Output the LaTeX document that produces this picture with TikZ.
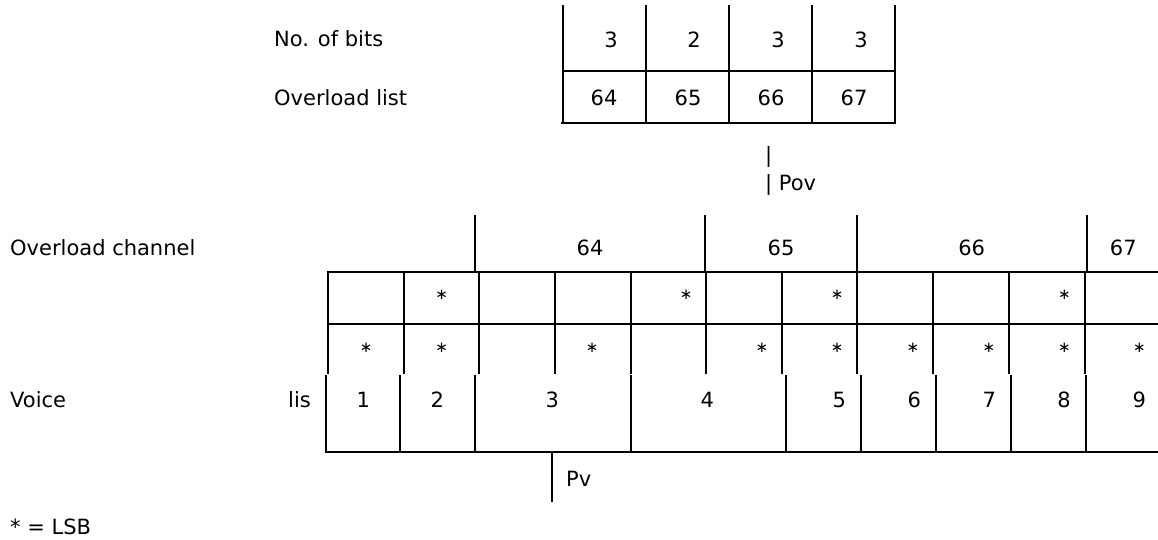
\documentclass[tikz,border=0pt]{standalone}
\usepackage{fontspec}
\setmainfont{DejaVu Sans}
\begin{document}
\begin{tikzpicture}[x=1pt,y=-1pt,
  grid/.style={line width=1.9pt,line cap=butt},
  lbl/.style={inner sep=0pt,font=\fontsize{21}{25}\selectfont},
  lw/.style={lbl,anchor=base west},
  num/.style={lbl,anchor=base},
  star/.style={inner sep=0pt,anchor=center,font=\fontsize{15}{18}\selectfont}]
\useasboundingbox (0,0) rectangle (1158,539);
% top table
\foreach \x in {562.7,646,729,812.3,895.3}
  \draw[grid] (\x,5) -- (\x,123.5);
\draw[grid] (562.7,71) -- (895.3,71);
\draw[grid] (561,122.7) -- (896.2,122.7);
\node[lw] (nbits) at (274,46) {No. of bits};
\node[lw] (olist) at (274,105) {Overload list};
\foreach \x/\t [count=\i] in {611/3,694/2,778/3,861/3}
  \node[num] (b\i) at (\x,47) {\t};
\foreach \x/\t [count=\i] in {604/64,688/65,771/66,854/67}
  \node[num] (l\i) at (\x,105) {\t};
% Pov
\node[lw] (pov1) at (765,162) {|};
\node[lw] (pov2) at (765,190) {| Pov};
% overload channel
\node[lw] (ochan) at (10,255) {Overload channel};
\foreach \x in {474.7,705,856.7,1086.7}
  \draw[grid] (\x,215) -- (\x,271.7);
\foreach \x/\t [count=\i] in {590/64,781/65,971.7/66,1123.3/67}
  \node[num] (c\i) at (\x,255) {\t};
\draw[grid] (326.8,271.7) -- (1158,271.7);
\draw[grid] (327.7,324) -- (1158,324);
\foreach \x in {327.7,404.3,479.3,555,631,706,782,857.3,933.3,1009,1085}
  \draw[grid] (\x,271.7) -- (\x,374);
\foreach \x [count=\i] in {441.7,686.2,837.2,1064.5}
  \node[star] (sa\i) at (\x,295) {∗};
\foreach \x [count=\i] in {366.2,441.7,592.2,761.8,837.2,912.8,988.8,1064.5,1139.5}
  \node[star] (sb\i) at (\x,347.5) {∗};
% voice
\node[lw] (voice) at (10,407) {Voice};
\node[lbl,anchor=base east] (lis) at (311,407) {lis};
\foreach \x in {325.7,400,475,630.7,785.7,860.7,935.7,1010.7,1085.7}
  \draw[grid] (\x,375) -- (\x,451.7);
\draw[grid] (324.8,451.7) -- (1158,451.7);
\foreach \x/\t [count=\i] in {363.3/1,437.3/2,552.3/3,707.3/4,839.3/5,914.3/6,989.3/7,1064/8,1139.3/9}
  \node[num] (v\i) at (\x,407) {\t};
% Pv
\coordinate (pvtop) at (552.3,451.7);
\coordinate (pvbot) at (552.3,501.7);
\draw[grid] (pvtop) -- (pvbot);
\node[lw] (pv) at (566,486) {Pv};
% legend
\node[lw] (legend) at (10,534) {* = LSB};
\end{tikzpicture}
\end{document}
